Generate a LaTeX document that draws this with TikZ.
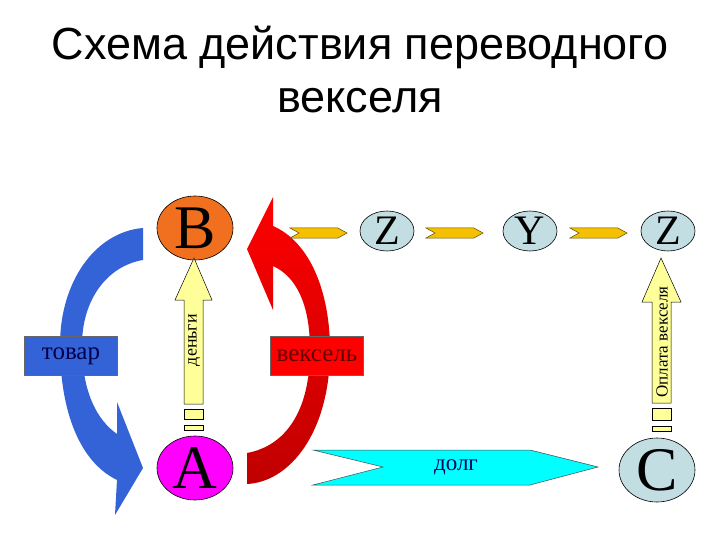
\documentclass[tikz,border=0pt]{standalone}
\usepackage{fontspec}
\setmainfont{Liberation Serif}
\newfontfamily\titlefont{Liberation Sans}
\usetikzlibrary{shapes.geometric}
\definecolor{borange}{HTML}{F07020}
\definecolor{amag}{HTML}{FF00FF}
\definecolor{grayblue}{HTML}{C3DEE2}
\definecolor{bblue}{HTML}{3363D6}
\definecolor{chev}{HTML}{F5C000}
\definecolor{ylw}{HTML}{FFFF99}
\definecolor{cyanf}{HTML}{00FFFF}
\tikzset{
  big/.style={ellipse,draw=black,line width=0.6pt,minimum width=76pt,minimum height=64pt,inner sep=0pt,font=\fontsize{62}{62}\selectfont},
  small/.style={ellipse,draw=black,line width=0.6pt,minimum width=54pt,minimum height=40pt,inner sep=0pt,font=\fontsize{42}{42}\selectfont},
  chevron/.style={fill=chev,draw=black!60!chev,line width=0.5pt},
  yarrow/.style={fill=ylw,draw=black,line width=0.5pt},
  lbl/.style={draw=black!60,line width=0.5pt,minimum width=93pt,minimum height=39pt,inner sep=0pt,font=\fontsize{25}{25}\selectfont}
}
\begin{document}
\begin{tikzpicture}[x=1pt,y=-1pt]
\useasboundingbox (0,0) rectangle (720,540);
\fill[white] (0,0) rectangle (720,540);
\node[font=\titlefont\fontsize{45}{53}\selectfont,align=center] (title) at (360,70) {Схема действия переводного\\векселя};
% blue curved arrow
\fill[bblue] (143,228) -- (143,260) .. controls (107,266) and (82,300) .. (82,345) .. controls (82,392) and (97,420) .. (117,434) -- (117,402) -- (143,468) -- (115,515) -- (117,480) .. controls (80,462) and (60,412) .. (60,345) .. controls (60,282) and (95,232) .. (143,228) -- cycle;
% red curved arrow
\shade[top color=red,bottom color=red!75!black,draw=none] (247,249) -- (273,197) -- (273,226) .. controls (310,242) and (330,292) .. (330,350) .. controls (330,432) and (290,482) .. (247,484) -- (247,453) .. controls (285,446) and (310,412) .. (310,350) .. controls (310,302) and (295,276) .. (273,266) -- (273,310) -- cycle;
\node[lbl,fill=bblue,text=black!70!blue] (tovar) at (71,356) {товар};
\node[lbl,fill=red,text=black!60!red] (veksel) at (317,356) {вексель};
% nodes
\node[big,fill=borange] (B) at (195,228) {B};
\node[big,fill=amag] (A) at (195,468) {A};
\node[big,fill=grayblue] (C) at (657,470) {C};
\node[small,fill=grayblue] (Z1) at (387,231) {Z};
\node[small,fill=grayblue] (Y) at (530,231) {Y};
\node[small,fill=grayblue] (Z2) at (668,231) {Z};
% chevrons
\draw[chevron] (290,228) -- (338,228) -- (347,233) -- (338,238) -- (290,238) -- (299,233) -- cycle;
\draw[chevron] (426,228) -- (474,228) -- (483,233) -- (474,238) -- (426,238) -- (435,233) -- cycle;
\draw[chevron] (570,228) -- (618,228) -- (627,233) -- (618,238) -- (570,238) -- (579,233) -- cycle;
% money arrow
\draw[yarrow] (184,404) -- (184,300) -- (175,300) -- (194,258) -- (212,300) -- (203,300) -- (203,404) -- cycle;
\draw[yarrow] (184,409) rectangle (203,419);
\draw[yarrow] (184,425) rectangle (203,430);
\node[rotate=90,font=\fontsize{18}{18}\selectfont] (dengi) at (194,340) {деньги};
% payment arrow
\draw[yarrow] (652,403) -- (652,302) -- (642,302) -- (661,258) -- (681,302) -- (671,302) -- (671,403) -- cycle;
\draw[yarrow] (652,408) rectangle (671,420);
\draw[yarrow] (652,426) rectangle (671,431);
\node[rotate=90,font=\fontsize{17}{17}\selectfont] (oplata) at (662,342) {Оплата векселя};
% debt arrow
\draw[fill=cyanf,draw=black!70,line width=0.5pt] (313,450) -- (530,450) -- (598,467) -- (530,485) -- (313,485) -- (383,467) -- cycle;
\node[font=\fontsize{23}{23}\selectfont,text=black!60!blue] (dolg) at (456,467) {долг};
\end{tikzpicture}
\end{document}
